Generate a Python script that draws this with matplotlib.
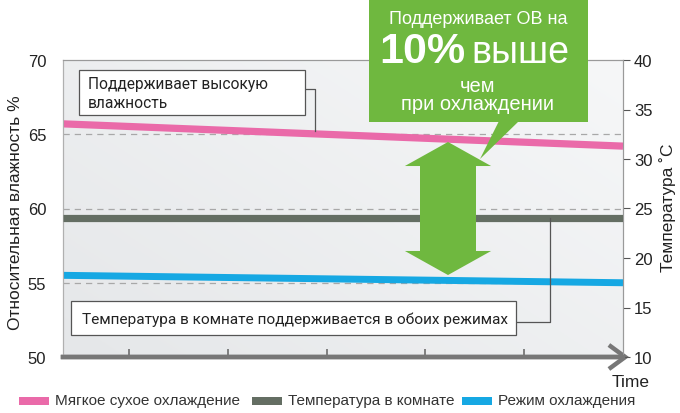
import numpy as np
import matplotlib
matplotlib.use("Agg")
import matplotlib.pyplot as plt
from matplotlib.patches import Polygon, Rectangle

# ---------------- data ----------------
time_span = [0.33, 6.0]                    # start / end of the time axis (arbitrary units)
humidity_soft_dry = [65.7, 64.2]           # Мягкое сухое охлаждение, %
humidity_cooling = [55.5, 55.0]            # Режим охлаждения, %
room_temperature = [24.0, 24.0]            # Температура в комнате, °C
humidity_ticks = [50, 55, 60, 65, 70]
temperature_ticks = [10, 15, 20, 25, 30, 35, 40]
time_ticks = [1, 2, 3, 4, 5]
legend_labels = ["Мягкое сухое охлаждение", "Температура в комнате", "Режим охлаждения"]

PINK = "#ea6aa9"
GRAY = "#646e63"
BLUE = "#16a8e3"
GREEN = "#6fb83f"
AXGRAY = "#777777"

W, H = 680, 414
fig = plt.figure(figsize=(W / 100, H / 100), dpi=100)
plt.rcParams['font.family'] = ['Liberation Sans', 'DejaVu Sans']
NARROW = ['Roboto', 'Liberation Sans', 'DejaVu Sans']


def fx(x):
    return x / W


def fy(y):
    return 1 - y / H


L, R, T, B = 63, 623, 61, 358
ax = fig.add_axes([fx(L), fy(B), (R - L) / W, (B - T) / H])
ax2 = ax.twinx()

# gradient background
gx, gy = np.meshgrid(np.linspace(0, 1, 200), np.linspace(0, 1, 200))
g = 0.55 * gx + 0.45 * gy
lo = np.array([0.898, 0.906, 0.914])
hi = np.array([0.965, 0.969, 0.973])
img = lo[None, None, :] + (hi - lo)[None, None, :] * g[..., None]
ax.imshow(img, extent=[0, 1, 0, 1], transform=ax.transAxes, origin='lower',
          aspect='auto', zorder=0)

ax.set_xlim(time_span[0], time_span[1])
ax.set_ylim(50, 70)
ax2.set_ylim(10, 40)

for v in [55, 60, 65]:
    ax.axhline(v, color="#a8a8a8", lw=0.9, ls=(0, (5, 4)), zorder=1)

ax.plot(time_span, humidity_soft_dry, color=PINK, lw=5.2, solid_capstyle='butt', zorder=3)
ax.plot(time_span, humidity_cooling, color=BLUE, lw=5.0, solid_capstyle='butt', zorder=3)
ax2.plot(time_span, room_temperature, color=GRAY, lw=5.2, solid_capstyle='butt', zorder=3)

# axes styling
ax.set_yticks(humidity_ticks)
ax.tick_params(axis='y', length=0, pad=12, labelsize=12, labelcolor="#222222")
ax.set_xticks(time_ticks)
ax.tick_params(axis='x', direction='in', length=6, width=1.3, color=AXGRAY,
               labelbottom=False)
ax2.set_yticks(temperature_ticks)
ax2.tick_params(axis='y', length=5, width=0.8, color="#555555", pad=3,
                labelsize=12, labelcolor="#222222")
for a in (ax, ax2):
    a.spines['top'].set_color("#9a9a9a")
    a.spines['top'].set_linewidth(0.8)
    a.spines['left'].set_color("#b0b0b0")
    a.spines['left'].set_linewidth(0.8)
    a.spines['right'].set_color("#9a9a9a")
    a.spines['right'].set_linewidth(0.8)
    a.spines['bottom'].set_color(AXGRAY)
    a.spines['bottom'].set_linewidth(3.2)
ax2.patch.set_visible(False)

# arrow head on the time axis
ax.plot([0.978, 1.004, 0.978], [0.036, 0.0, -0.036], transform=ax.transAxes,
        color=AXGRAY, lw=3.2, clip_on=False, solid_joinstyle='miter', zorder=5)

fig.text(fx(16), fy(213), "Относительная влажность %", rotation=90,
         ha='center', va='center', fontsize=12.5, color="#222222")
fig.text(fx(668), fy(208), "Температура ˚C", rotation=90,
         ha='center', va='center', fontsize=12.5, color="#222222")
fig.text(fx(631), fy(383), "Time", ha='center', va='center', fontsize=12.5,
         color="#222222")

# big green double arrow (axes fraction)
cx = 0.6875
hw, sw = 0.077, 0.05
tip_t, base_t, base_b, tip_b = 0.724, 0.643, 0.357, 0.276
arrow_pts = [(cx, tip_t), (cx + hw, base_t), (cx + sw, base_t), (cx + sw, base_b),
             (cx + hw, base_b), (cx, tip_b), (cx - hw, base_b), (cx - sw, base_b),
             (cx - sw, base_t), (cx - hw, base_t)]
ax2.add_patch(Polygon(arrow_pts, closed=True, transform=ax.transAxes,
                      facecolor=GREEN, edgecolor='none', zorder=6))

# annotation boxes (figure pixels)
box_kw = dict(facecolor='white', edgecolor="#555555", lw=0.9, zorder=10)
fig.patches.append(Rectangle((fx(79), fy(116)), (305 - 79) / W, (116 - 71) / H,
                             transform=fig.transFigure, **box_kw))
fig.lines.append(plt.Line2D([fx(305), fx(315), fx(315)], [fy(90), fy(90), fy(132)],
                            transform=fig.transFigure, color="#555555", lw=0.9))
fig.text(fx(88), fy(85), "Поддерживает высокую", family=NARROW, fontsize=11.2,
         ha='left', va='center', color="#222222", zorder=11)
fig.text(fx(88), fy(104), "влажность", family=NARROW, fontsize=11.2,
         ha='left', va='center', color="#222222", zorder=11)

fig.patches.append(Rectangle((fx(71), fy(336)), (516 - 71) / W, (336 - 302) / H,
                             transform=fig.transFigure, **box_kw))
fig.lines.append(plt.Line2D([fx(516), fx(550), fx(550)], [fy(323), fy(323), fy(219)],
                            transform=fig.transFigure, color="#555555", lw=0.9))
fig.text(fx(82), fy(320), "Температура в комнате поддерживается в обоих режимах",
         family=NARROW, fontsize=11.1, ha='left', va='center', color="#222222", zorder=11)

# green callout
fig.patches.append(Rectangle((fx(369), fy(123)), (588 - 369) / W, 123 / H,
                             transform=fig.transFigure, facecolor=GREEN,
                             edgecolor='none', zorder=12))
fig.patches.append(Polygon([(fx(499), fy(122)), (fx(519), fy(122)), (fx(480), fy(160))],
                           closed=True, transform=fig.transFigure, facecolor=GREEN,
                           edgecolor='none', zorder=12))
fig.text(fx(478), fy(20), "Поддерживает ОВ на", fontsize=13, color='white',
         ha='center', va='center', zorder=13)
fig.text(fx(465), fy(63), "10%", fontsize=31, fontweight='bold', color='white',
         ha='right', va='baseline', zorder=13)
fig.text(fx(471), fy(63), "выше", fontsize=27, color='white',
         ha='left', va='baseline', zorder=13)
fig.text(fx(478), fy(87), "чем", fontsize=14.5, color='white',
         ha='center', va='center', zorder=13)
fig.text(fx(478), fy(105), "при охлаждении", fontsize=14.5, color='white',
         ha='center', va='center', zorder=13)

# legend
leg_colors = [PINK, GRAY, BLUE]
leg_x = [19, 252, 462]
for c, x0, lab in zip(leg_colors, leg_x, legend_labels):
    fig.patches.append(Rectangle((fx(x0), fy(405.5)), 30 / W, 8 / H,
                                 transform=fig.transFigure, facecolor=c, edgecolor='none'))
    fig.text(fx(x0 + 36), fy(401), lab, fontsize=11, color="#333333",
             ha='left', va='center')

fig.savefig("out.png", dpi=100)
